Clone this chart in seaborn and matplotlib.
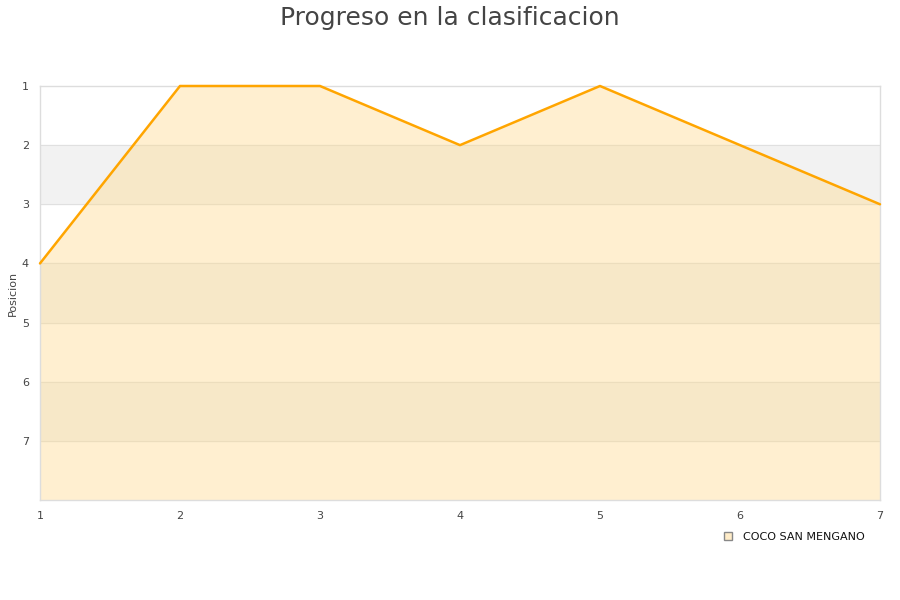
import matplotlib.pyplot as plt
import matplotlib.patches as mpatches
import seaborn as sns
import pandas as pd

# data
jornadas = [1, 2, 3, 4, 5, 6, 7]
posiciones = [4, 1, 1, 2, 1, 2, 3]
equipo = "COCO SAN MENGANO"
y_ticks = [1, 2, 3, 4, 5, 6, 7]

df = pd.DataFrame({"Jornada": jornadas, "Posicion": posiciones})

sns.set_theme(style="white")
fig = plt.figure(figsize=(9, 6), dpi=100)
ax = fig.add_axes([40 / 900, 1 - 500 / 600, 840 / 900, 414 / 600])

# alternating background bands
for lo in [2, 4, 6]:
    ax.axhspan(lo, lo + 1, color="#f2f2f2", zorder=0)
for y in range(2, 8):
    ax.axhline(y, color="#e0e0e0", lw=0.8, zorder=0.5)

# area + line
ax.fill_between(df["Jornada"], df["Posicion"], 8, color="#ffd98a", alpha=0.4, lw=0, zorder=1)
sns.lineplot(data=df, x="Jornada", y="Posicion", color="#ffa500", lw=1.8, ax=ax, zorder=3)
for ln in ax.lines:
    ln.set_clip_on(False)

ax.set_xlim(1, 7)
ax.set_ylim(8, 1)
ax.set_xticks(jornadas)
ax.set_yticks(y_ticks)
ax.tick_params(axis="both", length=0, labelsize=8, colors="#444444", pad=8)
ax.set_xlabel("")
ax.set_ylabel("Posicion", fontsize=8, color="#444444", labelpad=0)
ax.yaxis.set_label_coords(-22 / 840, 0.5)
for s in ax.spines.values():
    s.set_color("#dddddd")
    s.set_linewidth(1)

fig.suptitle("Progreso en la clasificacion", fontsize=18, color="#444444", y=0.99)

handle = mpatches.Patch(facecolor="#ffecc8", edgecolor="#888888", label=equipo)
fig.legend(handles=[handle], loc="center right", bbox_to_anchor=(0.972, 0.105),
           frameon=False, fontsize=8, handlelength=0.7, handleheight=0.7, handletextpad=1.0,
           labelcolor="#111111")

fig.savefig("out.png", dpi=100)
